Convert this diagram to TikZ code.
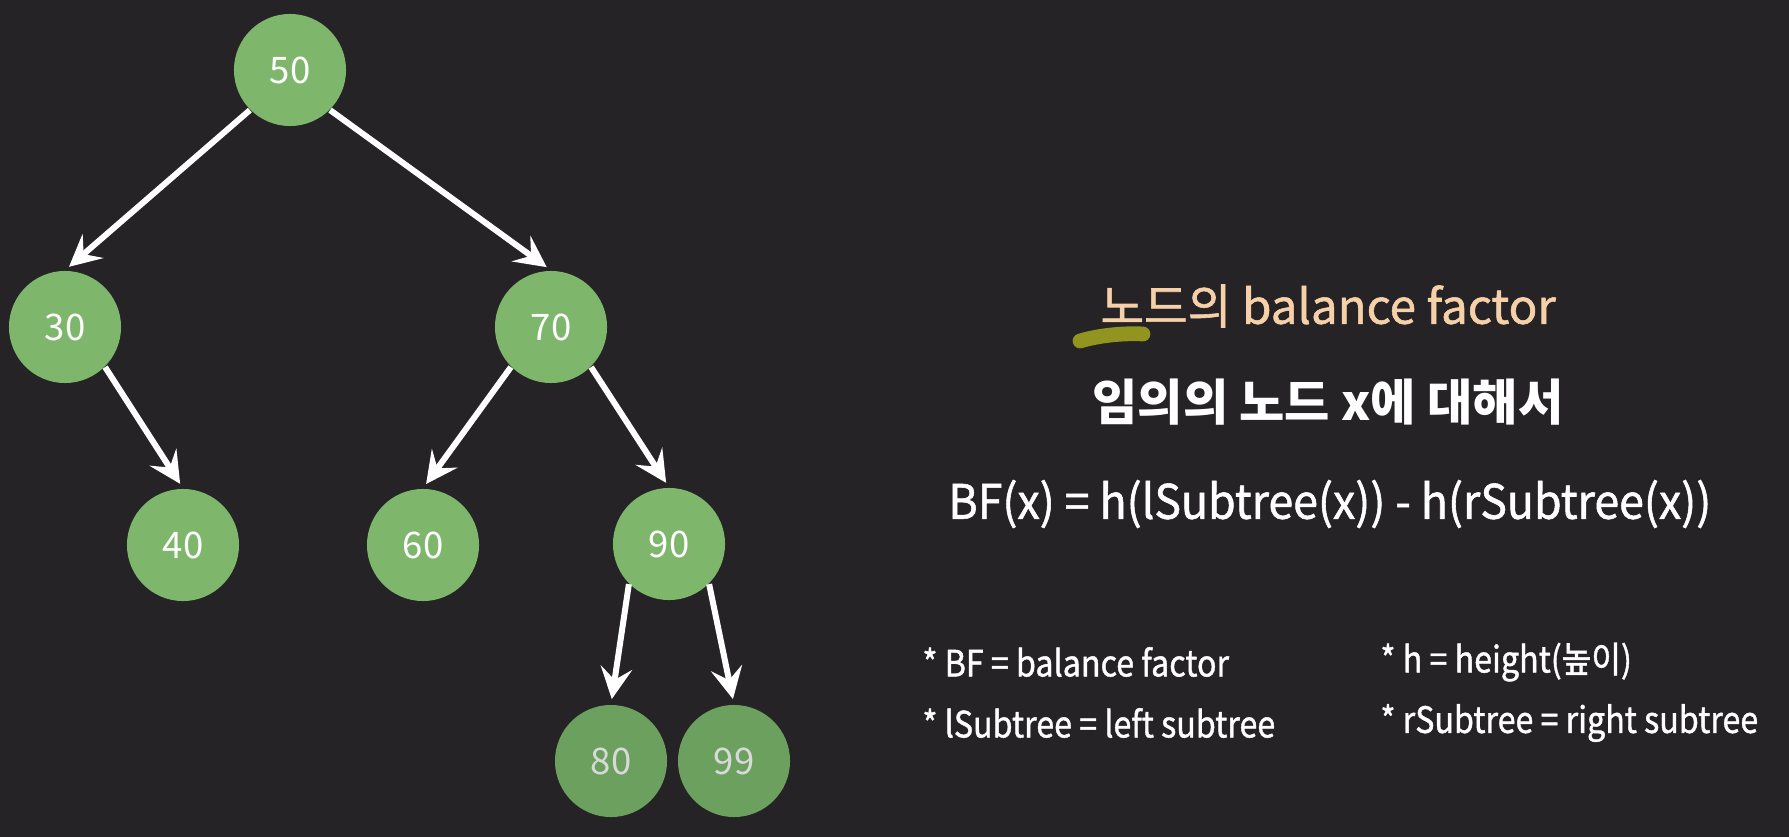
\documentclass[tikz,border=0pt]{standalone}
\usepackage{fontspec}
\usepackage{graphicx}
\setmainfont{Noto Sans CJK KR}
\newfontfamily\heavier[FakeBold=1.2]{Noto Sans CJK KR}
\usetikzlibrary{arrows.meta}
\definecolor{bgdark}{RGB}{37,35,38}
\definecolor{nodegreen}{RGB}{126,183,108}
\definecolor{nodedim}{RGB}{108,160,94}
\definecolor{peach}{RGB}{246,208,168}
\definecolor{olive}{RGB}{145,148,30}
\tikzset{
  bst/.style    = {circle, fill=nodegreen, minimum size=1.12cm, inner sep=0pt,
                   text=white, font=\fontsize{10.4}{12}\selectfont},
  bstdim/.style = {bst, fill=nodedim, text=black!15},
  edge/.style   = {-{Stealth[length=9pt,width=9pt,inset=3.5pt]}, line width=1.7pt,
                   white, shorten >=1.5pt},
  note/.style   = {anchor=west, text=white, font=\heavier\fontsize{10.3}{12}\selectfont},
  swoosh/.style = {line width=4.2pt, line cap=round, olive},
}
\begin{document}
\begin{tikzpicture}[x=0.01cm,y=-0.01cm]
  \useasboundingbox[fill=bgdark] (0,0) rectangle (1789,837);
  % tree
  \node[bst] (n50) at (290,70) {50};
  \node[bst] (n30) at (65,327) {30};
  \node[bst] (n70) at (551,327) {70};
  \node[bst] (n40) at (183,545) {40};
  \node[bst] (n60) at (423,545) {60};
  \node[bst] (n90) at (669,544) {90};
  \node[bstdim] (n80) at (611,761) {80};
  \node[bstdim] (n99) at (734,761) {99};
  \draw[edge] (n50.south west) -- (n30.north);
  \draw[edge] (n50.south east) -- (n70.north);
  \draw[edge] (n30.south east) -- (n40.north);
  \draw[edge] (n70.south west) -- (n60.north);
  \draw[edge] (n70.south east) -- (n90.north);
  \draw[edge] (n90.south west) -- (n80.north);
  \draw[edge] (n90.south east) -- (n99.north);
  % definition
  \draw[swoosh] (1080,341) .. controls (1100,335) and (1125,333) .. (1143,334);
  \node[anchor=west, text=peach, font=\heavier\fontsize{13.5}{15}\selectfont] (title) at (1088,306)
    {노드의 balance factor};
  \node[anchor=west, text=white, font=\bfseries\fontsize{14}{16}\selectfont] (any) at (1080,402)
    {임의의 노드 x에 대해서};
  \node[anchor=west, text=white, font=\heavier\fontsize{13.5}{16}\selectfont] (bf) at (936,504)
    {\scalebox{0.94}[1]{BF(x) = h(lSubtree(x)) - h(rSubtree(x))}};
  % notes
  \node[note] (nbf) at (910,662) {\scalebox{0.89}[1]{* BF = balance factor}};
  \node[note] (nh)  at (1368,662) {\scalebox{0.89}[1]{* h = height(높이)}};
  \node[note] (nl)  at (910,723) {\scalebox{0.89}[1]{* lSubtree = left subtree}};
  \node[note] (nr)  at (1368,723) {\scalebox{0.89}[1]{* rSubtree = right subtree}};
\end{tikzpicture}
\end{document}
